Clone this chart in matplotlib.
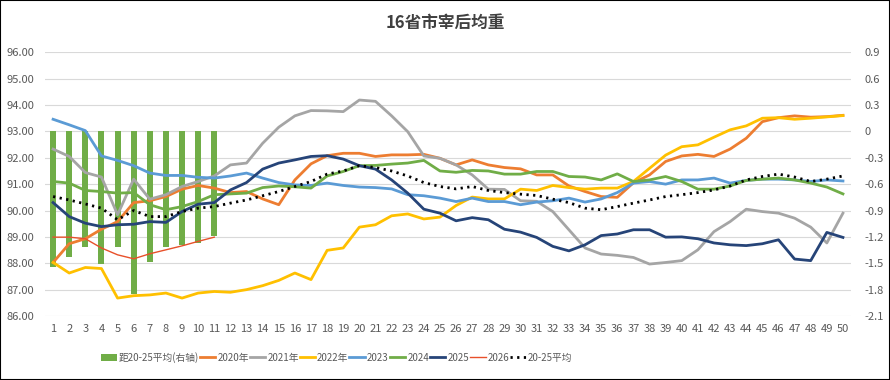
import matplotlib
matplotlib.use("Agg")
import matplotlib.pyplot as plt
from matplotlib.patches import Rectangle

plt.rcParams['font.family'] = ['Noto Sans CJK SC', 'DejaVu Sans']

weeks = list(range(1, 51))

# 距20-25平均 (right axis), only first 11 weeks
diff_avg = [-1.54, -1.425, -1.31, -1.51, -1.31, -1.85, -1.49, -1.31, -1.29, -1.27, -1.185]

y2020 = [88.03, 88.74, 88.93, 89.29, 89.58, 90.30, 90.37, 90.53, 90.81, 90.95,
         90.85, 90.68, 90.72, 90.44, 90.22, 91.16, 91.77, 92.08, 92.17, 92.17,
         92.05, 92.11, 92.11, 92.13, 91.98, 91.73, 91.92, 91.73, 91.63, 91.58,
         91.35, 91.35, 90.93, 90.72, 90.53, 90.50, 91.05, 91.35, 91.86, 92.07,
         92.13, 92.05, 92.33, 92.74, 93.37, 93.52, 93.59, 93.54, 93.56, 93.61]
y2021 = [92.33, 92.05, 91.44, 91.27, 89.84, 91.19, 90.43, 90.60, 90.91, 91.10,
         91.31, 91.73, 91.80, 92.55, 93.16, 93.59, 93.79, 93.78, 93.75, 94.19,
         94.14, 93.59, 92.99, 92.07, 91.98, 91.73, 91.35, 90.81, 90.80, 90.37,
         90.35, 89.96, 89.27, 88.58, 88.35, 88.30, 88.22, 87.97, 88.03, 88.10,
         88.51, 89.20, 89.58, 90.05, 89.96, 89.90, 89.71, 89.37, 88.77, 89.90]
y2022 = [88.03, 87.63, 87.84, 87.80, 86.68, 86.77, 86.80, 86.87, 86.68, 86.87,
         86.93, 86.90, 87.00, 87.15, 87.35, 87.63, 87.38, 88.49, 88.58, 89.37,
         89.46, 89.80, 89.87, 89.68, 89.75, 90.19, 90.51, 90.44, 90.44, 90.81,
         90.76, 90.95, 90.87, 90.81, 90.85, 90.85, 91.10, 91.60, 92.10, 92.42,
         92.49, 92.78, 93.06, 93.21, 93.50, 93.52, 93.46, 93.50, 93.55, 93.60]
y2023 = [93.46, 93.25, 93.03, 92.07, 91.90, 91.70, 91.42, 91.33, 91.33, 91.26,
         91.23, 91.31, 91.42, 91.23, 91.06, 90.97, 90.95, 91.04, 90.95, 90.89,
         90.87, 90.82, 90.60, 90.56, 90.47, 90.34, 90.47, 90.34, 90.34, 90.22,
         90.32, 90.37, 90.47, 90.32, 90.44, 90.68, 91.04, 91.10, 91.00, 91.16,
         91.16, 91.23, 91.04, 91.14, 91.19, 91.19, 91.16, 91.10, 91.16, 91.12]
y2024 = [91.10, 91.04, 90.76, 90.72, 90.66, 90.68, 90.22, 90.03, 90.15, 90.34,
         90.60, 90.63, 90.66, 90.87, 90.93, 90.90, 90.85, 91.31, 91.48, 91.70,
         91.71, 91.76, 91.80, 91.90, 91.50, 91.45, 91.52, 91.50, 91.38, 91.38,
         91.48, 91.48, 91.29, 91.27, 91.16, 91.39, 91.10, 91.16, 91.29, 91.10,
         90.81, 90.81, 90.93, 91.14, 91.19, 91.23, 91.16, 91.04, 90.89, 90.63]
y2025 = [90.30, 89.77, 89.52, 89.39, 89.46, 89.48, 89.58, 89.55, 89.96, 90.24,
         90.30, 90.78, 91.06, 91.57, 91.80, 91.92, 92.05, 92.08, 91.95, 91.70,
         91.57, 91.16, 90.66, 90.05, 89.90, 89.61, 89.73, 89.65, 89.29, 89.18,
         88.98, 88.64, 88.47, 88.70, 89.05, 89.11, 89.27, 89.27, 88.99, 89.00,
         88.93, 88.77, 88.70, 88.67, 88.74, 88.89, 88.16, 88.10, 89.17, 88.98]
y2026 = [88.99, 88.99, 88.93, 88.58, 88.32, 88.17, 88.36, 88.51, 88.66, 88.83, 88.99]
avg_20_25 = [90.53, 90.40, 90.25, 90.09, 89.65, 90.00, 89.77, 89.77, 89.96, 90.09,
             90.15, 90.28, 90.40, 90.56, 90.72, 90.91, 91.10, 91.38, 91.50, 91.70,
             91.63, 91.50, 91.31, 91.06, 90.91, 90.82, 90.91, 90.76, 90.68, 90.62,
             90.57, 90.43, 90.30, 90.09, 90.03, 90.15, 90.28, 90.40, 90.53, 90.60,
             90.68, 90.78, 90.93, 91.16, 91.29, 91.38, 91.27, 91.10, 91.19, 91.31]

left_ticks = [86, 87, 88, 89, 90, 91, 92, 93, 94, 95, 96]
right_ticks = [-2.1, -1.8, -1.5, -1.2, -0.9, -0.6, -0.3, 0, 0.3, 0.6, 0.9]

fig = plt.figure(figsize=(8.9, 3.8), dpi=100)
ax = fig.add_axes([0.0506, 0.1684, 0.9056, 0.694])
ax2 = ax.twinx()
# lines above bars
ax.set_zorder(2)
ax.patch.set_visible(False)
ax2.set_zorder(1)

bars = ax2.bar(weeks[:len(diff_avg)], diff_avg, width=0.37, color="#70AD47", label="距20-25平均(右轴)")

l1, = ax.plot(weeks, y2020, color="#ED7D31", lw=2.0, label="2020年")
l2, = ax.plot(weeks, y2021, color="#A5A5A5", lw=2.0, label="2021年")
l3, = ax.plot(weeks, y2022, color="#FFC000", lw=2.0, label="2022年")
l4, = ax.plot(weeks, y2023, color="#5B9BD5", lw=2.0, label="2023")
l5, = ax.plot(weeks, y2024, color="#70AD47", lw=2.0, label="2024")
l6, = ax.plot(weeks, y2025, color="#264478", lw=2.0, label="2025")
l7, = ax.plot(weeks[:len(y2026)], y2026, color="#E8502A", lw=1.0, label="2026")
l8, = ax.plot(weeks, avg_20_25, color="black", lw=2.0, ls=(0, (0.8, 1.6)), label="20-25平均")

ax.set_xlim(0.5, 50.5)
ax.set_ylim(86, 96)
ax2.set_ylim(-2.1, 0.9)
ax.set_xticks(weeks)
ax.set_xticklabels([str(w) for w in weeks])
ax.set_yticks(left_ticks)
ax.set_yticklabels(["%.2f" % t for t in left_ticks])
ax2.set_yticks(right_ticks)
ax2.set_yticklabels([("%g" % t) for t in right_ticks])

ax2.grid(axis="y", color="#D9D9D9", lw=0.8)
ax2.set_axisbelow(True)
for a in (ax, ax2):
    for s in a.spines.values():
        s.set_visible(False)
    a.tick_params(length=0, labelsize=8, colors="#595959")
ax.tick_params(axis="x", pad=6)
ax.tick_params(axis="y", pad=8)
ax2.tick_params(axis="y", pad=10)

fig.text(0.5, 0.94, "16省市宰后均重", ha="center", va="center", fontsize=12,
         fontweight="bold", color="#404040")

handles = [bars, l1, l2, l3, l4, l5, l6, l7, l8]
fig.legend(handles, [h.get_label() for h in handles], loc="center left", ncol=9,
           bbox_to_anchor=(0.108, 0.06), frameon=False,
           prop={'family': ['Liberation Sans Narrow', 'Noto Sans CJK SC', 'DejaVu Sans'], 'size': 7},
           handlelength=1.6, handletextpad=0.2, columnspacing=0.1, borderpad=0,
           labelcolor="#595959")

fig.patches.append(Rectangle((0, 0), 1, 1, transform=fig.transFigure,
                             fill=False, edgecolor="black", lw=1.5))

fig.savefig("out.png", dpi=100)
